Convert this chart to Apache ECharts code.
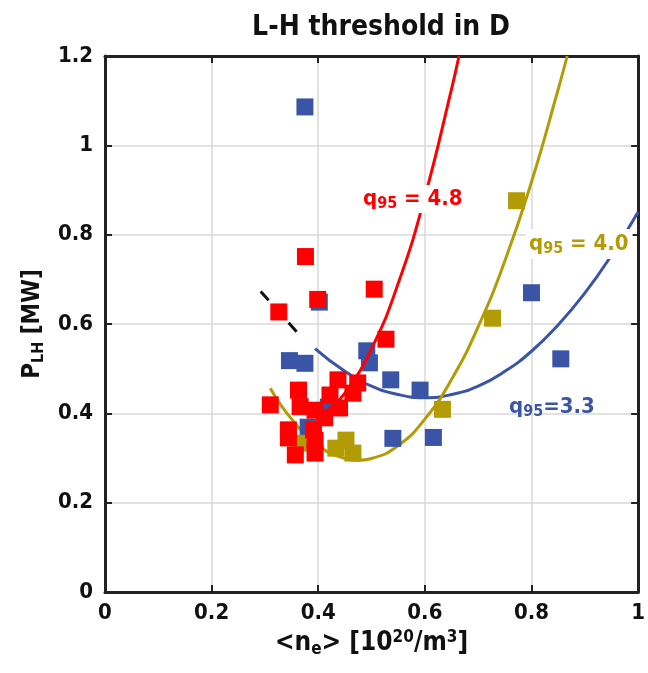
<!DOCTYPE html>
<html><head><meta charset="utf-8">
<script src="https://cdn.jsdelivr.net/npm/echarts@6/dist/echarts.min.js"></script>
<style>html,body{margin:0;padding:0;background:#fff}#c{width:648px;height:673px}</style>
</head><body><div id="c"></div><script>
const FONT = "'Liberation Sans Narrow','Arial Narrow','DejaVu Sans Condensed','Liberation Sans',sans-serif";
const RED = '#ff0000', BLUE = '#3a55a6', OLIVE = '#b39b05';

// x ticks / y ticks
const xTickLabels = ['0','0.2','0.4','0.6','0.8','1'];
const yTickLabels = ['0','0.2','0.4','0.6','0.8','1','1.2'];

// q95 = 4.8 (red squares)
const redX = [0.310,0.344,0.344,0.357,0.363,0.366,0.394,0.391,0.394,0.394,0.412,0.422,0.440,0.437,0.474,0.465,0.527,0.376,0.399,0.505,0.326];
const redY = [0.419,0.363,0.345,0.307,0.452,0.415,0.407,0.363,0.340,0.311,0.390,0.441,0.412,0.475,0.468,0.445,0.566,0.751,0.655,0.678,0.627];
// q95 = 3.3 (blue squares)
const blueX = [0.375,0.402,0.346,0.375,0.491,0.496,0.536,0.591,0.540,0.616,0.800,0.855,0.381,0.419];
const blueY = [1.086,0.649,0.518,0.512,0.540,0.513,0.475,0.452,0.344,0.346,0.670,0.522,0.369,0.414];
// q95 = 4.0 (olive squares)
const oliveX = [0.363,0.433,0.452,0.465,0.633,0.727,0.772];
const oliveY = [0.333,0.322,0.340,0.311,0.409,0.613,0.876];

// fit curves
const redCurveX = [0.395,0.42,0.45,0.50,0.55,0.60,0.65,0.664];
const redCurveY = [0.391,0.409,0.445,0.545,0.691,0.885,1.126,1.200];
const oliveCurveX = [0.31,0.35,0.40,0.45,0.475,0.50,0.55,0.60,0.65,0.70,0.75,0.80,0.85,0.867];
const oliveCurveY = [0.456,0.387,0.328,0.299,0.295,0.299,0.328,0.387,0.476,0.594,0.741,0.918,1.125,1.200];
const blueCurveX = [0.394,0.45,0.50,0.55,0.60,0.65,0.70,0.75,0.80,0.85,0.90,0.95,1.0];
const blueCurveY = [0.545,0.494,0.461,0.442,0.435,0.442,0.461,0.494,0.539,0.598,0.669,0.754,0.851];
const dashX = [0.292,0.363];
const dashY = [0.673,0.578];

const zip = (xs, ys) => xs.map((x, i) => [x, ys[i]]);
const chart = echarts.init(document.getElementById('c'), null, {renderer: 'canvas'});

const tickFont = {fontFamily: FONT, fontWeight: 'bold', fontSize: 22, color: '#111'};
const axisCommon = {
  axisLine: {show: true, onZero: false, lineStyle: {color: '#222', width: 3}},
  axisTick: {show: true, inside: true, length: 7, lineStyle: {color: '#222', width: 2}},
  splitLine: {show: false}
};

const labelRich = (color) => ({
  q: {fontFamily: FONT, fontWeight: 'bold', fontSize: 22, fill: color},
  s: {fontFamily: FONT, fontWeight: 'bold', fontSize: 16, fill: color, padding: [10, 0, 0, 0]},
  t: {fontFamily: FONT, fontWeight: 'bold', fontSize: 22, fill: color}
});

chart.setOption({
  animation: false,
  backgroundColor: '#fff',
  title: {
    text: 'L-H threshold in D', left: 376, top: 9, textAlign: 'center',
    textStyle: {fontFamily: FONT, fontWeight: 'bold', fontSize: 28, color: '#111'}
  },
  grid: {left: 105, right: 5, top: 56, bottom: 81, containLabel: false},
  xAxis: [
    Object.assign({}, axisCommon, {
      type: 'value', min: 0, max: 1, interval: 0.2, position: 'bottom',
      axisLabel: Object.assign({}, tickFont, {margin: 10, formatter: (v) => xTickLabels[Math.round(v / 0.2)]}),
      splitLine: {show: true, lineStyle: {color: '#d9d9d9', width: 1.5}},
      name: '<n{sub|e}> [10{sup|20}/m{sup|3}]', nameLocation: 'middle', nameGap: 33,
      nameTextStyle: {fontFamily: FONT, fontWeight: 'bold', fontSize: 26, color: '#111',
        rich: {
          sub: {fontFamily: FONT, fontWeight: 'bold', fontSize: 17, color: '#111', padding: [12, 0, 0, 0]},
          sup: {fontFamily: FONT, fontWeight: 'bold', fontSize: 17, color: '#111', padding: [0, 0, 12, 0]}
        }}
    }),
    Object.assign({}, axisCommon, {
      type: 'value', min: 0, max: 1, interval: 0.2, position: 'top',
      axisLabel: {show: false}
    })
  ],
  yAxis: [
    Object.assign({}, axisCommon, {
      type: 'value', min: 0, max: 1.2, interval: 0.2, position: 'left',
      axisLabel: Object.assign({}, tickFont, {margin: 12, formatter: (v) => yTickLabels[Math.round(v / 0.2)]}),
      splitLine: {show: true, lineStyle: {color: '#d9d9d9', width: 1.5}},
      name: 'P{sub|LH} [MW]', nameLocation: 'middle', nameGap: 57, nameRotate: 90,
      nameTextStyle: {fontFamily: FONT, fontWeight: 'bold', fontSize: 24, color: '#111',
        rich: {
          sub: {fontFamily: FONT, fontWeight: 'bold', fontSize: 16, color: '#111', padding: [12, 0, 0, 0]}
        }}
    }),
    Object.assign({}, axisCommon, {
      type: 'value', min: 0, max: 1.2, interval: 0.2, position: 'right',
      axisLabel: {show: false}
    })
  ],
  series: [
    {type: 'line', data: zip(dashX, dashY), symbol: 'none', z: 2,
      lineStyle: {color: '#111', width: 3, type: [12, 30]}},
    {type: 'line', data: zip(blueCurveX, blueCurveY), smooth: true, symbol: 'none', z: 2,
      lineStyle: {color: BLUE, width: 3}},
    {type: 'line', data: zip(oliveCurveX, oliveCurveY), smooth: true, symbol: 'none', z: 2,
      lineStyle: {color: OLIVE, width: 3}},
    {type: 'scatter', data: zip(blueX, blueY), symbol: 'rect', symbolSize: 17, z: 3,
      itemStyle: {color: BLUE, opacity: 1}},
    {type: 'scatter', data: zip(oliveX, oliveY), symbol: 'rect', symbolSize: 17, z: 4,
      itemStyle: {color: OLIVE, opacity: 1}},
    {type: 'line', data: zip(redCurveX, redCurveY), smooth: true, symbol: 'none', z: 4,
      lineStyle: {color: RED, width: 3}},
    {type: 'scatter', data: zip(redX, redY), symbol: 'rect', symbolSize: 17, z: 5,
      itemStyle: {color: RED, opacity: 1}}
  ],
  graphic: [
    {type: 'text', left: 360, top: 185, z: 10,
      style: {text: '{q|q}{s|95}{t| = 4.8}', rich: labelRich(RED), backgroundColor: '#fff', padding: [1, 3, 1, 3]}},
    {type: 'text', left: 526, top: 229, z: 10,
      style: {text: '{q|q}{s|95}{t| = 4.0}', rich: labelRich(OLIVE), backgroundColor: '#fff', padding: [2, 4, 2, 3]}},
    {type: 'text', left: 509, top: 396, z: 10,
      style: {text: '{q|q}{s|95}{t|=3.3}', rich: labelRich(BLUE)}}
  ]
});
</script></body></html>
